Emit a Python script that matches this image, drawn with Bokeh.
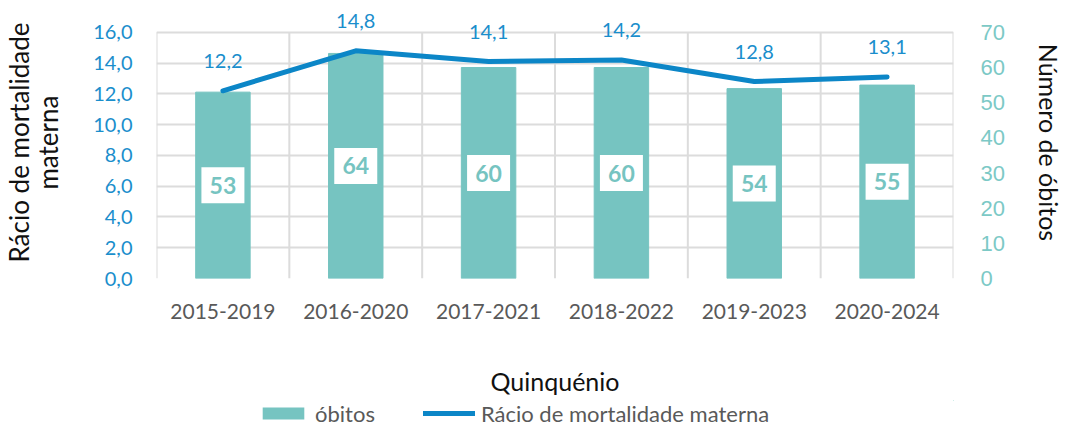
from bokeh.plotting import figure
from bokeh.layouts import column
from bokeh.models import (Range1d, LinearAxis, FixedTicker, CustomJSTickFormatter,
                          Grid, Legend, LegendItem, ColumnDataSource, LabelSet)
from bokeh.core.properties import value
from bokeh.embed import file_html
from bokeh.resources import INLINE

# ---- data ----
periods = ["2015-2019", "2016-2020", "2017-2021", "2018-2022", "2019-2023", "2020-2024"]
obitos = [53, 64, 60, 60, 54, 55]
racio = [12.2, 14.8, 14.1, 14.2, 12.8, 13.1]
left_ticks = [0, 2, 4, 6, 8, 10, 12, 14, 16]
right_ticks = [0, 10, 20, 30, 40, 50, 60, 70]

TEAL = "#76C4C1"
BLUE_LINE = "#0C86C7"
BLUE_TXT = "#1A8ECC"
GRID = "#DCDCDC"
FONT = "Lato"
HEADROOM = 1.105  # extra space above the top gridline for the value labels

x = [i + 0.5 for i in range(len(periods))]
bounds = list(range(len(periods) + 1))
src = ColumnDataSource(dict(
    x=x, obitos=obitos, racio=racio,
    mid=[v / 2 for v in obitos],
    ob_lbl=[str(v) for v in obitos],
    ra_lbl=[f"{v:.1f}".replace(".", ",") for v in racio],
))

p = figure(width=1066, height=400, output_backend="svg", toolbar_location=None,
           x_range=Range1d(0, len(periods)),
           y_range=Range1d(left_ticks[0], left_ticks[-1] * HEADROOM),
           min_border_left=156, min_border_right=104, min_border_top=6, min_border_bottom=122)
p.extra_y_ranges = {"right": Range1d(right_ticks[0], right_ticks[-1] * HEADROOM)}
p.outline_line_color = None
p.background_fill_color = "white"
p.border_fill_color = "white"

# grids
p.xgrid.visible = False
p.ygrid.visible = False
p.add_layout(Grid(dimension=1, ticker=FixedTicker(ticks=left_ticks),
                  grid_line_color=GRID, grid_line_width=2))
p.segment(x0=bounds, x1=bounds, y0=[left_ticks[0]] * len(bounds), y1=[left_ticks[-1]] * len(bounds),
          line_color=GRID, line_width=2)

# bars
bars = p.vbar(x="x", top="obitos", width=0.41, source=src, y_range_name="right",
              fill_color=TEAL, line_color=TEAL)
# line
line = p.line(x="x", y="racio", source=src, line_color=BLUE_LINE, line_width=5,
              line_cap="round", line_join="round")

# bar labels in white boxes
p.rect(x="x", y="mid", width=43, height=36, width_units="screen", height_units="screen",
       source=src, y_range_name="right", fill_color="white", line_color=None)
p.text(x="x", y="mid", text="ob_lbl", source=src, y_range_name="right",
       text_align="center", text_baseline="middle", text_color=TEAL,
       text_font=value(FONT), text_font_style="bold", text_font_size="23px")

# line labels
p.add_layout(LabelSet(x="x", y="racio", text="ra_lbl", source=src, y_offset=30,
                      text_align="center", text_baseline="middle", text_color=BLUE_TXT,
                      text_font=value(FONT), text_font_size="20px"))

# axes
xa = p.xaxis[0]
xa.ticker = FixedTicker(ticks=x)
xa.formatter = CustomJSTickFormatter(args=dict(labels=periods),
                                     code="return labels[Math.floor(tick)];")
xa.axis_line_color = None
xa.major_tick_line_color = None
xa.minor_tick_line_color = None
xa.major_label_standoff = 19
xa.major_label_text_font = FONT
xa.major_label_text_font_size = "21px"
xa.major_label_text_color = "#595959"
xa.axis_label = "Quinquénio"
xa.axis_label_standoff = 44
xa.axis_label_text_font = FONT
xa.axis_label_text_font_size = "25px"
xa.axis_label_text_font_style = "normal"
xa.axis_label_text_color = "#111111"

ya = p.yaxis[0]
ya.ticker = FixedTicker(ticks=left_ticks)
ya.formatter = CustomJSTickFormatter(code="return tick.toFixed(1).replace('.', ',');")
ya.axis_line_color = None
ya.major_tick_line_color = None
ya.minor_tick_line_color = None
ya.major_label_standoff = 18
ya.major_label_text_font = FONT
ya.major_label_text_font_size = "20px"
ya.major_label_text_color = BLUE_TXT
ya.axis_label = "Rácio de mortalidade\nmaterna"
ya.axis_label_standoff = 26
ya.axis_label_text_font = FONT
ya.axis_label_text_font_size = "26px"
ya.axis_label_text_line_height = 0.9
ya.axis_label_text_font_style = "normal"
ya.axis_label_text_color = "#111111"

ra = LinearAxis(y_range_name="right", ticker=FixedTicker(ticks=right_ticks))
ra.axis_line_color = None
ra.major_tick_line_color = None
ra.minor_tick_line_color = None
ra.major_label_standoff = 21
ra.major_label_text_font = "Liberation Sans"
ra.major_label_text_font_size = "22px"
ra.major_label_text_color = "#7CC9C6"
ra.axis_label = "Número de óbitos"
ra.axis_label_standoff = 26
ra.axis_label_text_font = FONT
ra.axis_label_text_font_size = "25px"
ra.axis_label_text_font_style = "normal"
ra.axis_label_text_color = "#111111"
p.add_layout(ra, "right")

# ---- legend strip below the chart (its frame is aligned with the chart's frame) ----
leg = figure(width=1066, height=26, output_backend="svg", toolbar_location=None,
             x_range=Range1d(-3, -2), y_range=Range1d(-3, -2),  # series kept out of view
             x_axis_type=None, y_axis_type=None,
             min_border_left=0, min_border_right=0, min_border_top=0, min_border_bottom=0)
leg.outline_line_color = None
leg.background_fill_color = "white"
leg.border_fill_color = "white"
leg_bar = leg.vbar(x="x", top="obitos", width=0.41, source=src, fill_color=TEAL, line_color=None)
leg_line = leg.line(x="x", y="racio", source=src, line_color=BLUE_LINE, line_width=5, line_cap="round")

legend = Legend(items=[LegendItem(label="óbitos", renderers=[leg_bar]),
                       LegendItem(label="Rácio de mortalidade materna", renderers=[leg_line])],
                orientation="horizontal", location="center_left", margin=101,
                glyph_width=52, glyph_height=15, label_standoff=6, spacing=48,
                label_text_font=FONT, label_text_font_size="22px", label_text_color="#595959",
                border_line_color=None, background_fill_alpha=0, padding=0)
leg.add_layout(legend, "center")

layout = column(p, leg, spacing=0)
open("out.html", "w").write(file_html(layout, INLINE))
